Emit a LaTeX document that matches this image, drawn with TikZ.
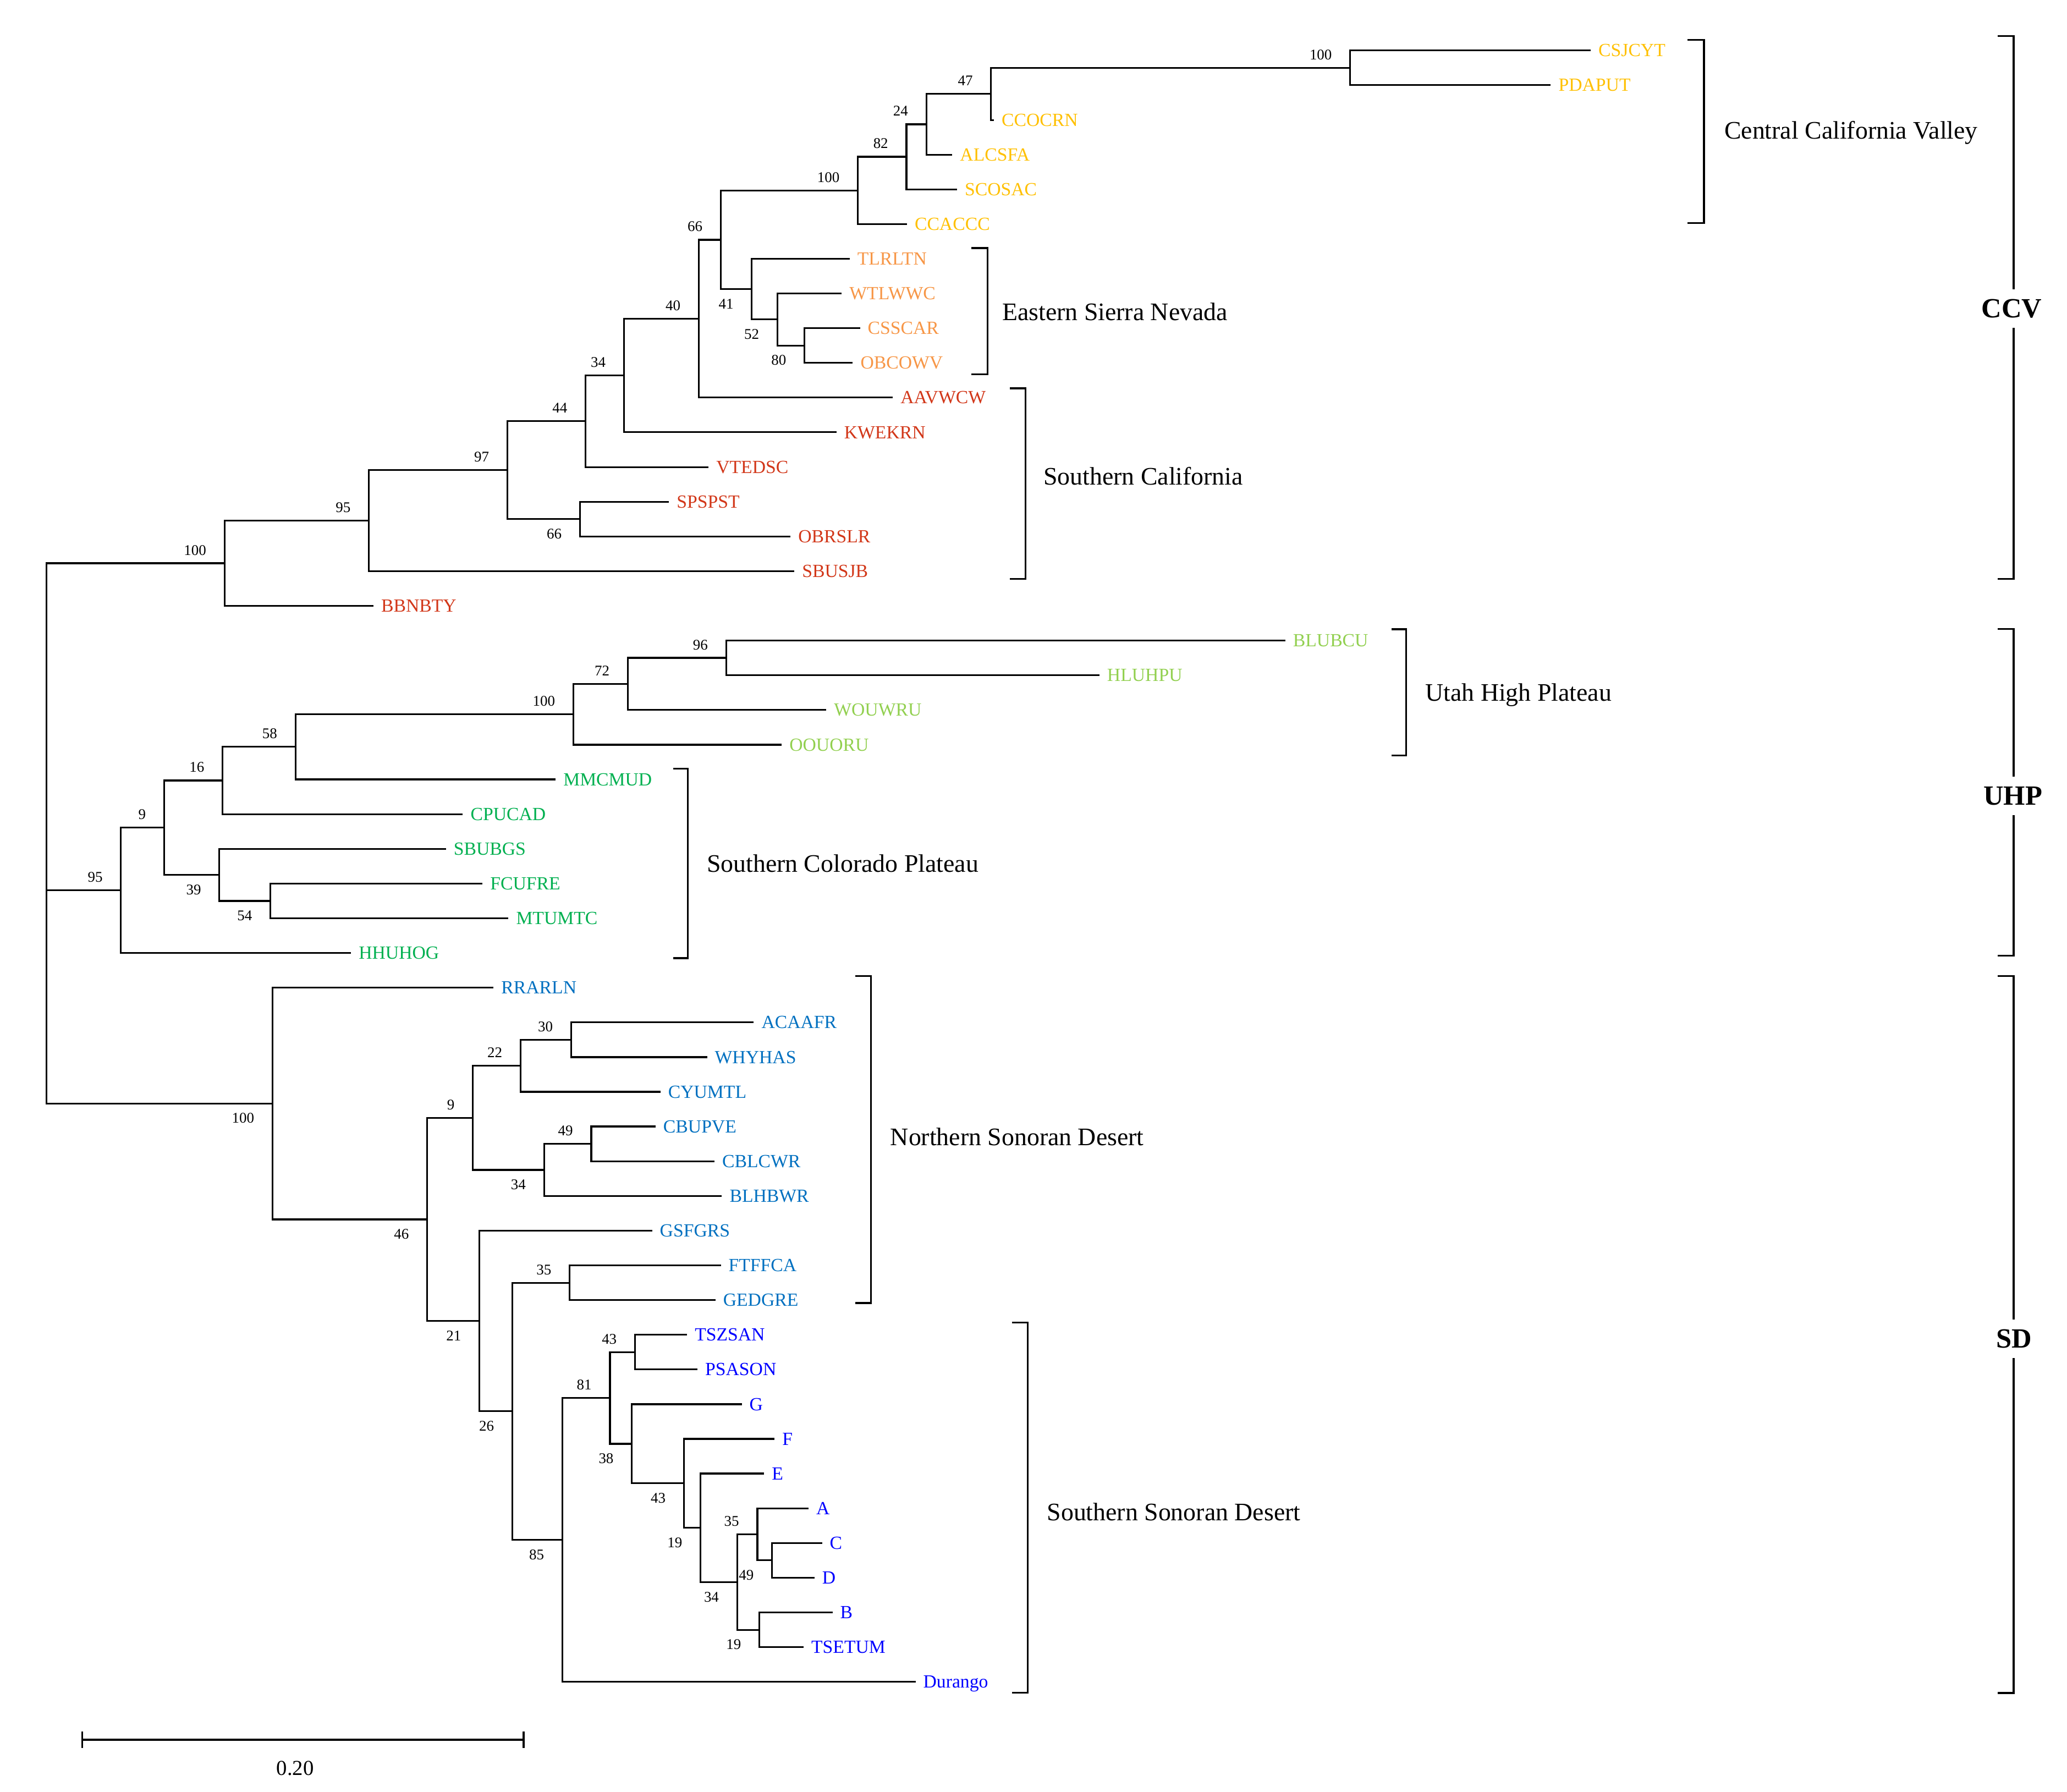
\documentclass[tikz,border=0pt]{standalone}
\usepackage{fontspec}
\setmainfont{Liberation Serif}
\definecolor{ccv}{RGB}{255,192,0}
\definecolor{esn}{RGB}{247,150,70}
\definecolor{sca}{RGB}{210,55,25}
\definecolor{uhp}{RGB}{146,208,80}
\definecolor{scp}{RGB}{0,176,80}
\definecolor{nsd}{RGB}{0,112,192}
\definecolor{ssd}{RGB}{0,0,255}
\begin{document}
\begin{tikzpicture}[x=0.25mm,y=-0.25mm,
  br/.style={line width=0.95pt, black},
  leaf/.style={anchor=west, inner xsep=1.4mm, inner ysep=0pt, font=\fontsize{10}{12}\selectfont, text height=6.6pt, text depth=0pt},
  bsa/.style={anchor=south east, inner sep=0pt, xshift=-3.4mm, yshift=1.5mm, font=\fontsize{8}{9}\selectfont, text height=5.4pt, text depth=0pt},
  bsb/.style={anchor=north east, inner sep=0pt, xshift=-3.4mm, yshift=-1.75mm, font=\fontsize{8}{9}\selectfont, text height=5.4pt, text depth=0pt},
  region/.style={anchor=west, inner sep=0pt, font=\fontsize{13.6}{16}\selectfont, text height=9pt, text depth=0pt},
  big/.style={fill=white, inner xsep=0.6mm, inner ysep=1.9mm, font=\fontsize{15}{18}\selectfont\bfseries, text height=9.9pt, text depth=0pt},
  scalelab/.style={inner sep=0pt, font=\fontsize{11.5}{13}\selectfont, text height=7.8pt, text depth=0pt}
]
\fill[white] (0,0) rectangle (1568,1359);
\useasboundingbox (0,0) rectangle (1568,1359);

% ---------- leaves ----------
\foreach \n/\x/\y/\c in {
 CSJCYT/1206.7/38.3/ccv, PDAPUT/1176.4/64.6/ccv, CCOCRN/754.0/91.0/ccv, ALCSFA/722.4/117.3/ccv,
 SCOSAC/726.0/143.6/ccv, CCACCC/688.0/170.0/ccv,
 TLRLTN/644.5/196.3/esn, WTLWWC/638.5/222.6/esn, CSSCAR/652.4/248.9/esn, OBCOWV/646.9/275.3/esn,
 AAVWCW/677.3/301.6/sca, KWEKRN/634.5/327.9/sca, VTEDSC/537.5/354.3/sca, SPSPST/507.5/380.6/sca,
 OBRSLR/599.7/406.9/sca, SBUSJB/602.6/433.3/sca, BBNBTY/283.3/459.6/sca,
 BLUBCU/975.0/485.9/uhp, HLUHPU/834.0/512.2/uhp, WOUWRU/626.8/538.6/uhp, OOUORU/593.0/564.9/uhp,
 MMCMUD/421.5/591.2/scp, CPUCAD/351.1/617.6/scp, SBUBGS/338.3/643.9/scp, FCUFRE/366.0/670.2/scp,
 MTUMTC/385.7/696.6/scp, HHUHOG/266.3/722.9/scp,
 RRARLN/374.4/749.2/nsd, ACAAFR/571.8/775.5/nsd, WHYHAS/536.4/801.9/nsd, CYUMTL/501.0/828.2/nsd,
 CBUPVE/497.3/854.5/nsd, CBLCWR/542.0/880.9/nsd, BLHBWR/547.6/907.2/nsd, GSFGRS/494.7/933.5/nsd,
 FTFFCA/546.8/959.9/nsd, GEDGRE/542.7/986.2/nsd,
 TSZSAN/521.2/1012.5/ssd, PSASON/529.1/1038.8/ssd, G/562.7/1065.2/ssd, F/587.6/1091.5/ssd,
 E/579.7/1117.8/ssd, A/613.4/1144.2/ssd, C/623.6/1170.5/ssd, D/617.8/1196.8/ssd,
 B/631.5/1223.2/ssd, TSETUM/609.6/1249.5/ssd, Durango/694.5/1275.8/ssd}
 {\node[leaf, text=\c] (t\n) at (\x,\y) {\n};}

% ---------- internal nodes with bootstrap values ----------
\foreach \n/\x/\y/\b/\p in {
 nA100/1024.2/51.45/100/a, n47/751.8/71.23/47/a, n24/702.7/94.26/24/a, n82/687.6/118.93/82/a,
 nB100/650.7/144.47/100/a, n80/610.3/262.1/80/b, n52/589.7/242.35/52/b, n41/570.3/219.33/41/b,
 n66a/546.7/181.9/66/a, n40/530.0/241.75/40/a, n34a/473.3/284.83/34/a, n44/444.2/319.56/44/a,
 n66b/439.9/393.75/66/b, n97/384.8/356.66/97/a, n95a/279.8/394.98/95/a, nC100/170.3/427.29/100/a,
 n96/550.8/499.05/96/a, n72/476.2/518.83/72/a, nD100/434.9/541.86/100/a, n58/224.1/566.53/58/a,
 n16/168.8/592.07/16/a, n54/205.1/683.4/54/b, n39/166.4/663.65/39/b, n9a/124.5/627.86/9/a,
 n95b/91.7/675.38/95/a,
 n30/433.2/788.7/30/a, n22/394.9/808.45/22/a, n49a/448.5/867.7/49/a, n34b/412.7/887.45/34/b,
 n9b/358.7/847.95/9/a, n35a/432.1/973.05/35/a, n43a/481.7/1025.65/43/a, n49b/585.6/1183.65/49/b,
 n35b/574.5/1163.93/35/a, n19b/576.0/1236.35/19/b, n34c/559.2/1200.14/34/b, n19a/531.4/1158.97/19/b,
 n43b/518.8/1125.24/43/b, n38/479.3/1095.22/38/b, n81/462.7/1060.44/81/a, n85/426.6/1168.12/85/b,
 n26/388.6/1070.59/26/b, n21/363.7/1002.05/21/b, n46/324.0/925.0/46/b, nE100/206.7/837.1/100/b}
 {\coordinate (\n) at (\x,\y); \node[bs\p] (b\n) at (\n) {\b};}
\coordinate (root) at (35.3,632.2);

% ---------- branches ----------
\foreach \p/\c in {
 nA100/tCSJCYT.west, nA100/tPDAPUT.west, n47/nA100, n47/tCCOCRN.west, n24/n47, n24/tALCSFA.west,
 n82/n24, n82/tSCOSAC.west, nB100/n82, nB100/tCCACCC.west,
 n80/tCSSCAR.west, n80/tOBCOWV.west, n52/tWTLWWC.west, n52/n80, n41/tTLRLTN.west, n41/n52,
 n66a/nB100, n66a/n41, n40/n66a, n40/tAAVWCW.west, n34a/n40, n34a/tKWEKRN.west,
 n44/n34a, n44/tVTEDSC.west, n66b/tSPSPST.west, n66b/tOBRSLR.west, n97/n44, n97/n66b,
 n95a/n97, n95a/tSBUSJB.west, nC100/n95a, nC100/tBBNBTY.west,
 n96/tBLUBCU.west, n96/tHLUHPU.west, n72/n96, n72/tWOUWRU.west, nD100/n72, nD100/tOOUORU.west,
 n58/nD100, n58/tMMCMUD.west, n16/n58, n16/tCPUCAD.west, n54/tFCUFRE.west, n54/tMTUMTC.west,
 n39/tSBUBGS.west, n39/n54, n9a/n16, n9a/n39, n95b/n9a, n95b/tHHUHOG.west,
 n30/tACAAFR.west, n30/tWHYHAS.west, n22/n30, n22/tCYUMTL.west, n49a/tCBUPVE.west, n49a/tCBLCWR.west,
 n34b/n49a, n34b/tBLHBWR.west, n9b/n22, n9b/n34b, n35a/tFTFFCA.west, n35a/tGEDGRE.west,
 n43a/tTSZSAN.west, n43a/tPSASON.west, n49b/tC.west, n49b/tD.west, n35b/tA.west, n35b/n49b,
 n19b/tB.west, n19b/tTSETUM.west, n34c/n35b, n34c/n19b, n19a/tE.west, n19a/n34c,
 n43b/tF.west, n43b/n19a, n38/tG.west, n38/n43b, n81/n43a, n81/n38, n85/n81, n85/tDurango.west,
 n26/n35a, n26/n85, n21/tGSFGRS.west, n21/n26, n46/n9b, n46/n21, nE100/tRRARLN.west, nE100/n46,
 root/nC100, root/n95b, root/nE100}
 {\draw[br] (\p) |- (\c);}

% ---------- region brackets ----------
\draw[br] (1280,30.1) -- (1292.6,30.1) -- (1292.6,169.2) -- (1280,169.2);
\node[region] (lccv) at (1307.8,99.0) {Central California Valley};
\draw[br] (736.7,188.2) -- (749.2,188.2) -- (749.2,284) -- (736.7,284);
\node[region] (lesn) at (760,236.7) {Eastern Sierra Nevada};
\draw[br] (766.2,294.6) -- (778.1,294.6) -- (778.1,439) -- (766.2,439);
\node[region] (lsca) at (791.3,361.5) {Southern California};
\draw[br] (1055.7,477.3) -- (1066.7,477.3) -- (1066.7,573.1) -- (1055.7,573.1);
\node[region] (luhp) at (1081,525.5) {Utah High Plateau};
\draw[br] (510.6,583.1) -- (521.9,583.1) -- (521.9,726.8) -- (510.6,726.8);
\node[region] (lscp) at (535.9,655.3) {Southern Colorado Plateau};
\draw[br] (648.6,740.3) -- (660.7,740.3) -- (660.7,988.4) -- (648.6,988.4);
\node[region] (lnsd) at (675.2,862.7) {Northern Sonoran Desert};
\draw[br] (767.6,1003.4) -- (779.5,1003.4) -- (779.5,1284) -- (767.6,1284);
\node[region] (lssd) at (794,1147) {Southern Sonoran Desert};

% ---------- major brackets ----------
\draw[br] (1515.4,27.2) -- (1527.5,27.2) -- (1527.5,439) -- (1515.4,439);
\node[big] (gccv) at (1526,234.2) {CCV};
\draw[br] (1515.4,477.2) -- (1527.5,477.2) -- (1527.5,724.9) -- (1515.4,724.9);
\node[big] (guhp) at (1527,603.6) {UHP};
\draw[br] (1515.4,740.3) -- (1527.5,740.3) -- (1527.5,1284.3) -- (1515.4,1284.3);
\node[big] (gsd) at (1528,1015.5) {SD};

% ---------- scale bar ----------
\coordinate (sb1) at (62.3,1319.7);
\coordinate (sb2) at (397.2,1319.7);
\draw[br] (sb1) -- (sb2);
\draw[br] ([yshift=1.6mm]sb1) -- ([yshift=-1.6mm]sb1);
\draw[br] ([yshift=1.6mm]sb2) -- ([yshift=-1.6mm]sb2);
\node[scalelab] (sblab) at (223.9,1341.3) {0.20};
\end{tikzpicture}
\end{document}
